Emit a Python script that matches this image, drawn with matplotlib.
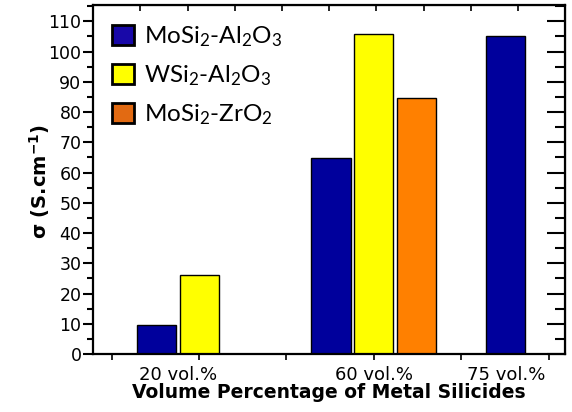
import numpy as np
import matplotlib
matplotlib.use("Agg")
import matplotlib.pyplot as plt
from matplotlib.patches import Patch
from matplotlib.ticker import MultipleLocator

plt.rcParams['font.family'] = 'DejaVu Sans'
plt.rcParams['mathtext.default'] = 'regular'

# data
categories = ['20 vol.%', '60 vol.%', '75 vol.%']
group_pos = [2, 4, 6]
series_names = ['MoSi$_2$-Al$_2$O$_3$', 'WSi$_2$-Al$_2$O$_3$', 'MoSi$_2$-ZrO$_2$']
mosi2_al2o3 = [9.5, 64.7, 105.0]
wsi2_al2o3 = [26.1, 105.8, np.nan]
mosi2_zro2 = [np.nan, 84.8, np.nan]
series = [mosi2_al2o3, wsi2_al2o3, mosi2_zro2]

bar_colors = ['#00009C', '#FFFF00', '#FF8000']
legend_colors = ['#1808A8', '#FFFF00', '#E26A12']
offsets = [-0.49, 0.0, 0.49]
bar_w = 0.447

fig = plt.figure(figsize=(5.72, 4.12), dpi=100)
ax = fig.add_axes([0.163, 0.1408, 0.825, 0.8471])

label_x = [[] for _ in categories]
for vals, col, off in zip(series, bar_colors, offsets):
    for i, v in enumerate(vals):
        if np.isnan(v):
            continue
        x = group_pos[i] + off
        ax.bar(x, v, width=bar_w, color=col, edgecolor='black', linewidth=1.0, zorder=2)
        label_x[i].append(x)

ax.set_xlim(0.789, 6.19)
ax.set_ylim(0, 115.4)

# bottom ticks (unlabelled) + category labels under the bars
ax.xaxis.remove_overlapping_locs = False
ax.set_xticks(range(1, 7))
ax.set_xticklabels([])
ax.set_xticks([np.mean(p) for p in label_x], categories, minor=True)
ax.tick_params(axis='x', which='major', direction='out', length=4, width=1.2)
ax.tick_params(axis='x', which='minor', length=0, pad=9, labelsize=13)

ax.yaxis.set_major_locator(MultipleLocator(10))
ax.yaxis.set_minor_locator(MultipleLocator(5))
ax.tick_params(axis='y', which='major', direction='out', length=7, width=1.5, pad=1.5, labelsize=12.5)
ax.tick_params(axis='y', which='minor', direction='out', length=4, width=1.5)

for s in ax.spines.values():
    s.set_linewidth(1.6)

# top axis: 10 even divisions, inward
x0, x1 = ax.get_xlim()
top = ax.secondary_xaxis('top')
top.set_xticks([x0 + k * (x1 - x0) / 10 for k in range(1, 10)])
top.tick_params(direction='in', length=4, width=1.2, labeltop=False)

# right axis: inward ticks
right = ax.secondary_yaxis('right')
right.yaxis.set_major_locator(MultipleLocator(10))
right.yaxis.set_minor_locator(MultipleLocator(5))
right.tick_params(which='major', direction='in', length=13, width=1.5, labelright=False)
right.tick_params(which='minor', direction='in', length=7, width=1.5)

handles = [Patch(facecolor=c, edgecolor='black', linewidth=2.0) for c in legend_colors]
ax.legend(handles, series_names, loc='upper left', bbox_to_anchor=(0.039, 0.945),
          frameon=False, borderpad=0, borderaxespad=0, handlelength=0.9, handleheight=0.9,
          handletextpad=0.45, labelspacing=0.6, prop={'family': 'Lato', 'size': 17.5})

fig.text(40 / 572, 1 - 181 / 412, r'$\sigma$ (S.cm$^{-1}$)', rotation=90, ha='center', va='center',
         fontsize=14, fontweight='bold')
fig.text(329 / 572, 1 - 398 / 412, 'Volume Percentage of Metal Silicides', ha='center', va='baseline',
         fontsize=13.5, fontweight='bold')

fig.savefig('out.png', dpi=100)
